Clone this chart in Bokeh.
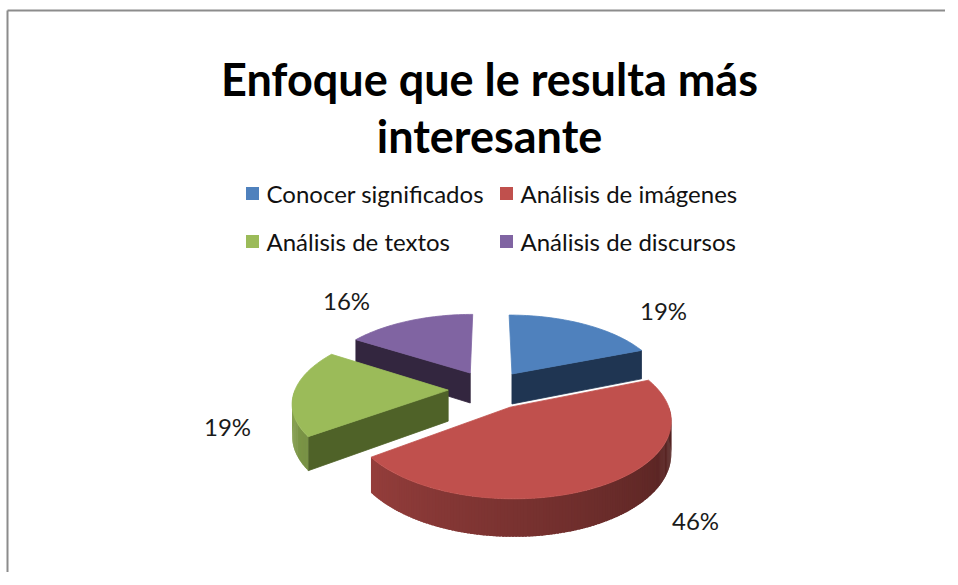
import numpy as np
from bokeh.plotting import figure
from bokeh.models import Range1d
from bokeh.core.properties import value
from bokeh.embed import file_html
from bokeh.resources import INLINE

# ---------------- data ----------------
title_lines = ["Enfoque que le resulta más", "interesante"]
categories = ["Conocer significados", "Análisis de imágenes",
              "Análisis de textos", "Análisis de discursos"]
percentages = [19, 46, 19, 16]
pct_labels = ["19%", "46%", "19%", "16%"]

# ---------------- styles ----------------
top_colors = ["#4F81BD", "#C0504D", "#9BBB59", "#8064A2"]
face_colors = ["#1F3552", "#5A2120", "#4F6228", "#33263F"]
FONT = "Lato"

W, H = 945, 572
p = figure(width=W, height=H, x_range=Range1d(0, W), y_range=Range1d(H, 0),
           output_backend="svg", toolbar_location=None, min_border=0,
           x_axis_location=None, y_axis_location=None,
           outline_line_color=None)
p.grid.visible = False
p.background_fill_color = "white"
p.border_fill_color = "white"

# chart frame (left and top edges visible)
p.multi_line(xs=[[7, 7], [7, W]], ys=[[H, 10], [10, 10]],
             line_color="#8c8c8c", line_width=2)

# ---------------- title ----------------
p.text(x=[489, 489], y=[78, 135], text=title_lines,
       text_align="center", text_baseline="alphabetic",
       text_font=value(FONT), text_font_style="bold",
       text_font_size="45px", text_color="#000000")

# ---------------- legend ----------------
leg_x = [252, 506, 252, 506]
leg_y = [193, 193, 241, 241]
p.scatter(x=leg_x, y=leg_y, marker="square", size=13,
          fill_color=top_colors, line_color=None)
p.text(x=[x + 14 for x in leg_x], y=leg_y, text=categories,
       text_align="left", text_baseline="middle",
       text_font=value(FONT), text_font_size="24px", text_color="#111111")

# ---------------- 3D exploded pie ----------------
CX, CY = 489.0, 389.0
KX, KY = 153.0, 72.0
PERSP = 0.15
EXPLODE = 0.27
DEPTH = 31.0


def proj(u, v, z):
    u = np.asarray(u, dtype=float)
    v = np.asarray(v, dtype=float)
    s = 1.0 / (1.0 - PERSP * v)
    return CX + s * KX * u, CY + s * (KY * v + DEPTH * z)


def hex_to_rgb(h):
    h = h.lstrip("#")
    return tuple(int(h[i:i + 2], 16) for i in (0, 2, 4))


def shade(h, f):
    r, g, b = hex_to_rgb(h)
    return "#%02x%02x%02x" % (int(min(255, r * f)), int(min(255, g * f)), int(min(255, b * f)))


fr = np.array(percentages, dtype=float) / float(sum(percentages))
ends = np.cumsum(fr) * 360.0
starts = ends - fr * 360.0

slices = []
for i in range(len(percentages)):
    a, b = starts[i], ends[i]
    m = np.radians((a + b) / 2.0)
    ou, ov = EXPLODE * np.sin(m), -EXPLODE * np.cos(m)
    slices.append((ov, i, a, b, ou))
slices.sort()

for ov, i, a, b, ou in slices:
    def pt(theta_deg, z):
        t = np.radians(theta_deg)
        return proj(ou + np.sin(t), ov - np.cos(t), z)

    fx, fy, fc = [], [], []      # stroked faces
    sx, sy, sc = [], [], []      # gradient strips (unstroked)
    ax0, ay0 = proj(ou, ov, 0)
    ax1, ay1 = proj(ou, ov, 1)
    # radial faces
    for ang, nrm in ((a, a - 90), (b, b + 90)):
        if -np.cos(np.radians(nrm)) > 0.05:
            x0, y0 = pt(ang, 0)
            x1, y1 = pt(ang, 1)
            fx.append([ax0, float(x0), float(x1), ax1])
            fy.append([ay0, float(y0), float(y1), ay1])
            fc.append(face_colors[i])
    if fx:
        p.patches(xs=fx, ys=fy, fill_color=fc, line_color=fc, line_width=0.8)
    # outer curved side (front half only), shaded strips
    lo, hi = max(a, 90.0), min(b, 270.0)
    if hi > lo:
        n = max(2, int((hi - lo) / 1.0))
        th = np.linspace(lo, hi, n + 1)
        step = th[1] - th[0]
        for k in range(n):
            t0 = th[k]
            t1 = min(hi, th[k + 1] + 0.6 * step)
            arc = np.linspace(t0, t1, 3)
            xt, yt = pt(arc, 0)
            xb, yb = pt(arc[::-1], 1)
            sx.append(list(xt) + list(xb))
            sy.append(list(yt) + list(yb))
            tm = ((th[k] + th[k + 1]) / 2.0 - 90.0) / 180.0
            sc.append(shade(top_colors[i], 0.40 + 0.47 * tm))
        p.patches(xs=sx, ys=sy, fill_color=sc, line_color=None)
    # top face
    th = np.linspace(a, b, max(8, int((b - a) / 1.5)))
    tx, ty = pt(th, 0)
    p.patches(xs=[[ax0] + list(tx)], ys=[[ay0] + list(ty)],
              fill_color=top_colors[i], line_color=top_colors[i], line_width=0.8)

# ---------------- data labels ----------------
lab_x = [663, 695, 227, 346]
lab_y = [310, 520, 426, 300]
p.text(x=lab_x, y=lab_y, text=pct_labels, text_align="center",
       text_baseline="middle", text_font=value(FONT),
       text_font_size="24px", text_color="#1a1a1a")

open("out.html", "w").write(file_html(p, INLINE))
